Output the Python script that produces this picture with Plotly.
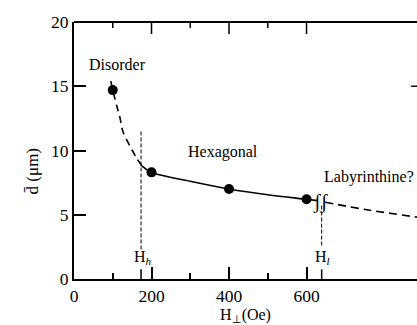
import plotly.graph_objects as go

# Measured stripe/bubble spacing vs. perpendicular field
h_points = [100, 200, 400, 600]
d_points = [14.7, 8.3, 7.0, 6.2]

# Dashed trend through the disordered regime
h_disorder = [95, 100, 111, 119, 126, 145, 162, 175]
d_disorder = [15.4, 14.7, 13.4, 12.5, 11.5, 10.3, 9.4, 8.8]

# Solid trend through the hexagonal regime
h_hex = [175, 200, 300, 400, 500, 600, 628]
d_hex = [8.8, 8.3, 7.6, 7.0, 6.55, 6.2, 6.1]

# Dashed extrapolation into the labyrinthine regime
h_lab = [648, 764, 900]
d_lab = [5.97, 5.35, 4.75]

# Phase boundaries
h_h = 173
h_l = 639

x_ticks = [0, 200, 400, 600]
x_minor = [100, 300, 500]
y_ticks = [0, 5, 10, 15, 20]
x_range = [0, 885]
y_range = [0, 20]

SERIF = "Liberation Serif, Times New Roman, serif"
INK = "black"
PLOT_H = 257  # plot-area height in px, for the top-edge tick lengths

fig = go.Figure()

fig.add_trace(go.Scatter(x=h_disorder, y=d_disorder, mode="lines",
                         line=dict(color=INK, width=1.6, dash="7px,5px", shape="spline"),
                         hoverinfo="skip"))
fig.add_trace(go.Scatter(x=h_hex, y=d_hex, mode="lines",
                         line=dict(color=INK, width=1.6, shape="spline"),
                         hoverinfo="skip"))
fig.add_trace(go.Scatter(x=h_lab, y=d_lab, mode="lines",
                         line=dict(color=INK, width=1.6, dash="8px,5px", shape="spline"),
                         hoverinfo="skip"))
fig.add_trace(go.Scatter(x=h_points, y=d_points, mode="markers",
                         marker=dict(color=INK, size=10)))

# Top frame edge with inward ticks (long at labelled values, short between)
fig.add_shape(type="line", xref="paper", yref="paper", x0=0, x1=1, y0=1, y1=1,
              line=dict(color=INK, width=2))
for tv, frac in [(v, 12 / PLOT_H) for v in x_ticks[1:]] + [(v, 6 / PLOT_H) for v in x_minor]:
    fig.add_shape(type="line", xref="x", yref="paper", x0=tv, x1=tv,
                  y0=1, y1=1 - frac, line=dict(color=INK, width=1.5))

# Phase-boundary markers: dashed verticals plus a short tick on the axis
for hx, y_top, y_bot in [(h_h, 11.5, 2.3), (h_l, 5.8, 2.6)]:
    fig.add_shape(type="line", x0=hx, x1=hx, y0=y_bot, y1=y_top,
                  line=dict(color=INK, width=1, dash="4px,2px"))
    fig.add_shape(type="line", x0=hx, x1=hx, y0=0, y1=0.75,
                  line=dict(color=INK, width=1.5))

# Tick on the far-right axis at d = 15
fig.add_shape(type="line", xref="paper", x0=0.983, x1=1.0, y0=15, y1=15,
              line=dict(color=INK, width=1.5))

labels = [
    (111, 16.7, "Disorder"),
    (385, 9.9, "Hexagonal"),
    (762, 7.9, "Labyrinthine?"),
    (h_h + 5, 1.7, "H<sub><i>h</i></sub>"),
    (h_l + 3, 1.7, "H<sub><i>l</i></sub>"),
]
for lx, ly, txt in labels:
    fig.add_annotation(x=lx, y=ly, text=txt, showarrow=False,
                       font=dict(family=SERIF, size=16, color=INK))

# Axis break on the trend line
fig.add_annotation(x=h_l - 4, y=6.0, text="ʃʃ", showarrow=False,
                   font=dict(family=SERIF, size=20, color=INK))

# Vertical axis title
fig.add_annotation(xref="paper", yref="paper", x=-0.155, y=0.42,
                   text="d̄ (μm)", textangle=-90, showarrow=False,
                   font=dict(family=SERIF, size=17, color=INK))

line_style = dict(showgrid=False, zeroline=False, tickwidth=1.5, tickcolor=INK)

fig.update_layout(
    xaxis=dict(range=x_range, tickmode="array", tickvals=x_ticks,
               ticks="inside", ticklen=12,
               showline=True, linewidth=2, linecolor=INK,
               minor=dict(tickmode="array", tickvals=x_minor, ticks="inside",
                          ticklen=6, tickwidth=1.5, tickcolor=INK),
               tickfont=dict(family=SERIF, size=17.5, color=INK),
               title=dict(text="H<sub>⊥</sub>(Oe)", standoff=0,
                          font=dict(family=SERIF, size=16, color=INK)),
               **line_style),
    yaxis=dict(range=y_range, tickmode="array", tickvals=y_ticks,
               ticks="inside", ticklen=12,
               showline=True, linewidth=2, linecolor=INK,
               tickfont=dict(family=SERIF, size=17.5, color=INK),
               **line_style),
    width=417, height=325,
    margin=dict(l=74, r=0, t=22, b=46),
    paper_bgcolor="white", plot_bgcolor="white",
    showlegend=False,
)

fig.write_html("out.html", config={"displayModeBar": False})
